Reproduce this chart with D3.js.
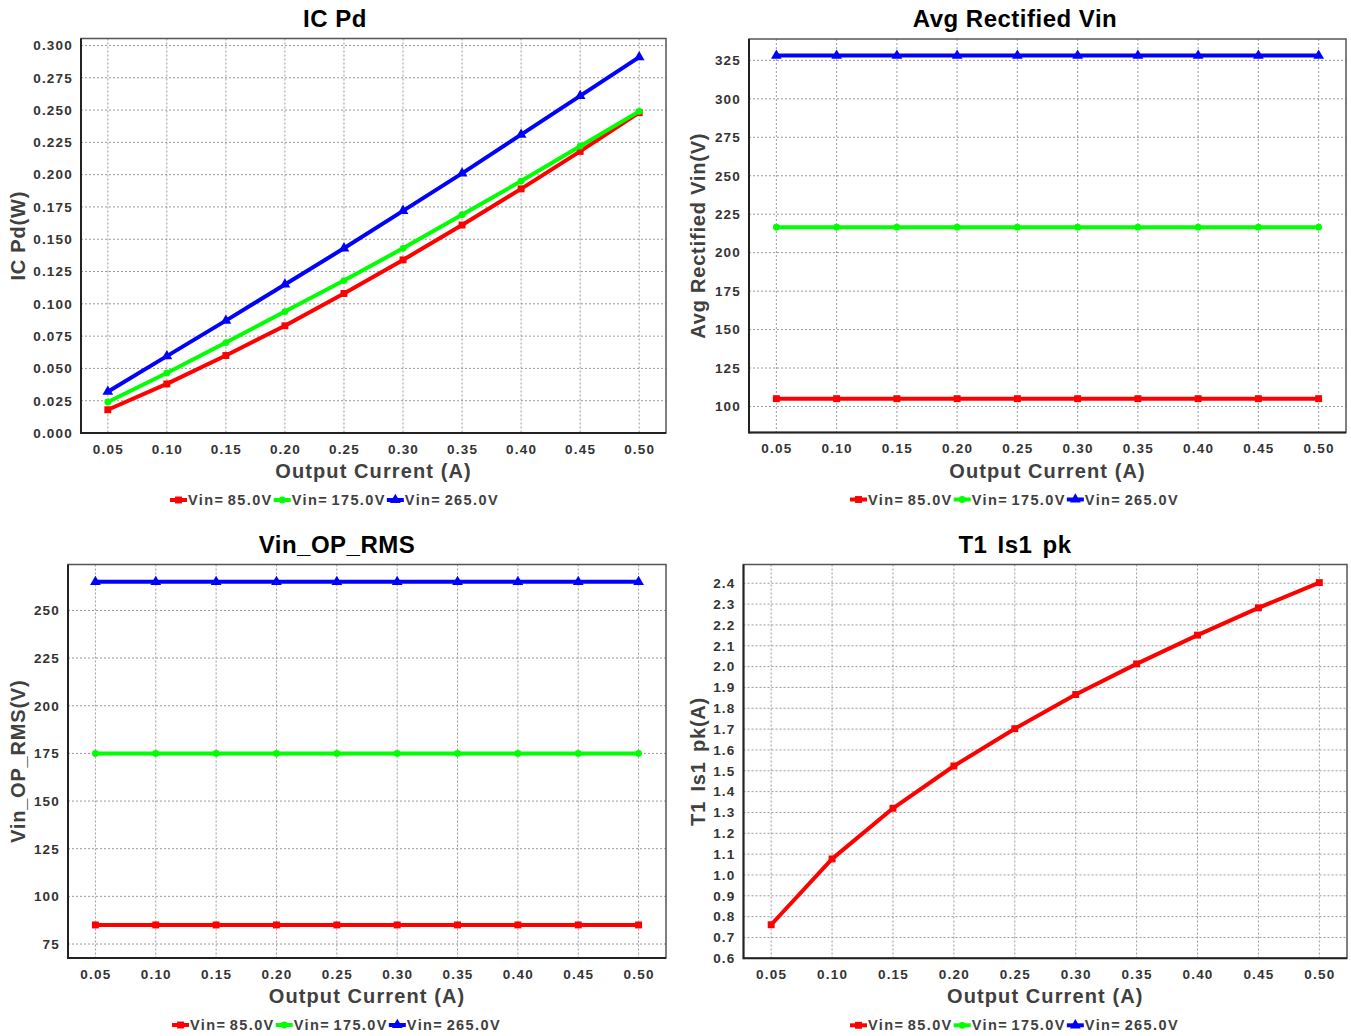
<!DOCTYPE html>
<html><head><meta charset="utf-8">
<script src="https://cdn.jsdelivr.net/npm/d3@7"></script>
<style>
body{margin:0;background:#fff}
svg{display:block}
text{font-family:"Liberation Sans",Arial,sans-serif;font-weight:bold}
</style></head>
<body><svg id="c" width="1351" height="1036"></svg>
<script>
// ---------- data ----------
const outputCurrent = [0.05,0.10,0.15,0.20,0.25,0.30,0.35,0.40,0.45,0.50];
const seriesNames = ["Vin= 85.0V","Vin= 175.0V","Vin= 265.0V"];

const icPd85  = [0.018,0.038,0.060,0.083,0.108,0.134,0.161,0.189,0.218,0.248];
const icPd175 = [0.024,0.0465,0.070,0.094,0.118,0.143,0.169,0.195,0.222,0.249];
const icPd265 = [0.032,0.0595,0.087,0.115,0.143,0.172,0.201,0.231,0.261,0.291];

const avgRect85  = [105.1,105.1,105.1,105.1,105.1,105.1,105.1,105.1,105.1,105.1];
const avgRect175 = [216.6,216.6,216.6,216.6,216.6,216.6,216.6,216.6,216.6,216.6];
const avgRect265 = [328.1,328.1,328.1,328.1,328.1,328.1,328.1,328.1,328.1,328.1];

const vinRms85  = [85,85,85,85,85,85,85,85,85,85];
const vinRms175 = [175,175,175,175,175,175,175,175,175,175];
const vinRms265 = [265,265,265,265,265,265,265,265,265,265];

const is1pk85 = [0.761,1.077,1.320,1.523,1.702,1.866,2.013,2.151,2.282,2.403];

const xTickLabels = ["0.05","0.10","0.15","0.20","0.25","0.30","0.35","0.40","0.45","0.50"];
const icPdTicks   = [0,0.025,0.05,0.075,0.1,0.125,0.15,0.175,0.2,0.225,0.25,0.275,0.3];
const avgRectTicks = [100,125,150,175,200,225,250,275,300,325];
const vinRmsTicks  = [75,100,125,150,175,200,225,250];
const is1pkTicks   = [0.6,0.7,0.8,0.9,1.0,1.1,1.2,1.3,1.4,1.5,1.6,1.7,1.8,1.9,2.0,2.1,2.2,2.3,2.4];

// ---------- styles / layout ----------
const colors = ["#ff0000","#00ff00","#0000ff"];
const markers = [d3.symbolSquare, d3.symbolCircle, d3.symbolTriangle];
const markerSizes = [48, 36, 50];

const panels = [
  {title:"IC Pd", ylabel:"IC Pd(W)", cx:335, L:81, T:38.5, R:666, B:433, ws:0,
   yd:[0,0.3054], yt:icPdTicks, fmt:d3.format(".3f"), data:[icPd85,icPd175,icPd265]},
  {title:"Avg Rectified Vin", ylabel:"Avg Rectified Vin(V)", cx:1015, L:749, T:39, R:1346, B:432.5, ws:0,
   yd:[83.1,338.9], yt:avgRectTicks, fmt:d3.format("d"), data:[avgRect85,avgRect175,avgRect265]},
  {title:"Vin_OP_RMS", ylabel:"Vin_OP_RMS(V)", cx:337, L:68, T:564.5, R:666, B:958, ws:0,
   yd:[67.66,274.1], yt:vinRmsTicks, fmt:d3.format("d"), data:[vinRms85,vinRms175,vinRms265]},
  {title:"T1 Is1 pk", ylabel:"T1 Is1 pk(A)", cx:1015, L:743.5, T:564.5, R:1347, B:958.3, ws:3,
   yd:[0.6,2.49], yt:is1pkTicks, fmt:d3.format(".1f"), data:[is1pk85,null,null]}
];

const svg = d3.select("#c");

panels.forEach(p => {
  const g = svg.append("g");
  const x = d3.scaleLinear().domain([0.0273,0.5227]).range([p.L,p.R]);
  const y = d3.scaleLinear().domain(p.yd).range([p.B,p.T]);

  // grid
  g.append("g").selectAll("line").data(outputCurrent).join("line")
    .attr("x1",d=>x(d)).attr("x2",d=>x(d)).attr("y1",p.T).attr("y2",p.B)
    .attr("stroke","#9a9a9a").attr("stroke-width",1).attr("stroke-dasharray","2,2");
  g.append("g").selectAll("line").data(p.yt).join("line")
    .attr("x1",p.L).attr("x2",p.R).attr("y1",d=>y(d)).attr("y2",d=>y(d))
    .attr("stroke","#9a9a9a").attr("stroke-width",1).attr("stroke-dasharray","2,2");

  // border
  g.append("rect").attr("x",p.L).attr("y",p.T).attr("width",p.R-p.L).attr("height",p.B-p.T)
    .attr("fill","none").attr("stroke","#555").attr("stroke-width",1.5);
  g.append("line").attr("x1",p.L).attr("x2",p.L).attr("y1",p.T).attr("y2",p.B+1)
    .attr("stroke","#222").attr("stroke-width",2);
  g.append("line").attr("x1",p.L).attr("x2",p.R).attr("y1",p.B).attr("y2",p.B)
    .attr("stroke","#222").attr("stroke-width",2);

  // axes
  const ax = g.append("g").attr("transform",`translate(0,${p.B})`)
    .call(d3.axisBottom(x).tickValues(outputCurrent).tickSize(0).tickPadding(11)
      .tickFormat((d,i)=>xTickLabels[i]));
  ax.select(".domain").remove();
  ax.selectAll("text").attr("font-size",13.5).attr("fill","#333").style("letter-spacing","1.2px")
    .style("font-family","'Liberation Sans',Arial,sans-serif").style("font-weight","bold");

  const ay = g.append("g").attr("transform",`translate(${p.L},0)`)
    .call(d3.axisLeft(y).tickValues(p.yt).tickSize(0).tickPadding(8).tickFormat(p.fmt));
  ay.select(".domain").remove();
  ay.selectAll("text").attr("font-size",13.5).attr("fill","#333").style("letter-spacing","1.2px")
    .style("font-family","'Liberation Sans',Arial,sans-serif").style("font-weight","bold");

  // series lines + markers
  const line = d3.line().x((d,i)=>x(outputCurrent[i])).y(d=>y(d));
  p.data.forEach((arr,si) => {
    if (!arr) return;
    g.append("path").datum(arr).attr("d",line).attr("fill","none")
      .attr("stroke",colors[si]).attr("stroke-width",4).attr("stroke-linejoin","round");
    g.append("g").selectAll("path").data(arr).join("path")
      .attr("transform",(d,i)=>`translate(${x(outputCurrent[i])},${y(d)})`)
      .attr("d",d3.symbol().type(markers[si]).size(markerSizes[si]))
      .attr("fill",colors[si]);
  });

  // title
  g.append("text").attr("x",p.cx).attr("y",p.T-12).attr("text-anchor","middle")
    .attr("font-size",24).attr("fill","#000").style("letter-spacing","0.5px")
    .style("word-spacing",p.ws+"px").text(p.title);

  // x axis title
  g.append("text").attr("x",(p.L+p.R)/2).attr("y",p.B+45).attr("text-anchor","middle")
    .attr("font-size",20).attr("fill","#404040").style("letter-spacing","1.1px").text("Output Current (A)");

  // y axis title
  const yc = (p.T+p.B)/2;
  const yx = p.L < 100 ? 25 : 705;
  g.append("text").attr("transform",`translate(${yx},${yc}) rotate(-90)`).attr("text-anchor","middle")
    .attr("font-size",20).attr("fill","#404040").style("letter-spacing","0.8px")
    .style("word-spacing",p.ws+"px").text(p.ylabel);

  // legend
  const lg = g.append("g");
  let cur = 0;
  seriesNames.forEach((name,si) => {
    const it = lg.append("g");
    it.append("line").attr("x1",0).attr("x2",17).attr("y1",0).attr("y2",0)
      .attr("stroke",colors[si]).attr("stroke-width",4);
    it.append("path").attr("transform","translate(8.5,0)")
      .attr("d",d3.symbol().type(markers[si]).size(markerSizes[si])).attr("fill",colors[si]);
    const t = it.append("text").attr("x",18).attr("y",5).attr("font-size",14.5)
      .attr("fill","#404040").style("letter-spacing","1.4px").style("word-spacing","-2px").text(name);
    const w = 18 + t.node().getComputedTextLength() + 1;
    it.attr("transform",`translate(${cur},0)`);
    cur += w;
  });
  lg.attr("transform",`translate(${p.cx - cur/2},${p.B+67})`);
});
</script></body></html>
